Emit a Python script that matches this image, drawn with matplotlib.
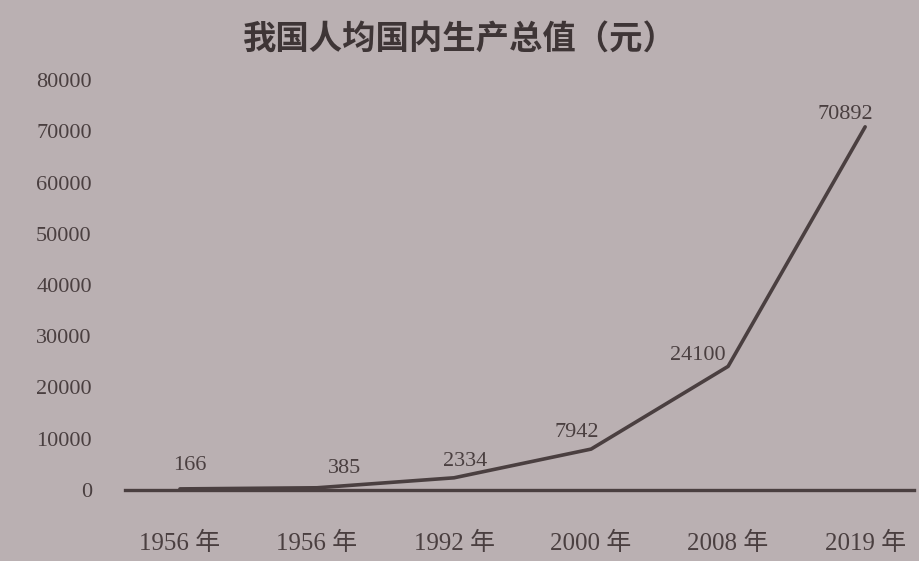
import matplotlib.pyplot as plt

plt.rcParams['font.family'] = ['Liberation Serif', 'Noto Sans CJK SC', 'DejaVu Sans']

# data
years = ['1956 年', '1956 年', '1992 年', '2000 年', '2008 年', '2019 年']
gdp = [166, 385, 2334, 7942, 24100, 70892]
yticks = [0, 10000, 20000, 30000, 40000, 50000, 60000, 70000, 80000]

bg = '#bab0b2'
ink = '#4a3f40'

fig = plt.figure(figsize=(9.2, 5.61), dpi=100, facecolor=bg)
ax = fig.add_axes([0.136, 0.127, 0.858, 0.73], facecolor=bg)

x = list(range(len(years)))
ax.plot(x, gdp, color=ink, lw=2.6, solid_capstyle='round')

# value labels, nudged like in the print
offsets = [(7, 17), (20, 14), (8, 12), (-10, 12), (-22, 8), (-14, 9)]
for xi, v, off in zip(x, gdp, offsets):
    ax.annotate(str(v), (xi, v), xytext=off, textcoords='offset points',
                ha='center', va='center', fontsize=16, color=ink)

ax.set_xlim(-0.4, 5.36)
ax.set_ylim(0, 80000)
ax.set_xticks(x)
ax.set_xticklabels(years, fontsize=18, color=ink)
ax.set_yticks(yticks)
ax.set_yticklabels([str(t) for t in yticks], fontsize=16, color=ink)
ax.tick_params(length=0)
ax.tick_params(axis='y', pad=24)
ax.tick_params(axis='x', pad=30)

for s in ['top', 'right', 'left']:
    ax.spines[s].set_visible(False)
ax.spines['bottom'].set_color(ink)
ax.spines['bottom'].set_linewidth(2.4)

fig.text(0.5, 0.93, '我国人均国内生产总值（元）', ha='center', va='center',
         fontsize=24, fontweight='bold', color='#3e3536',
         family=['Noto Sans CJK SC', 'DejaVu Sans'])

fig.savefig('out.png', dpi=100, facecolor=bg)
